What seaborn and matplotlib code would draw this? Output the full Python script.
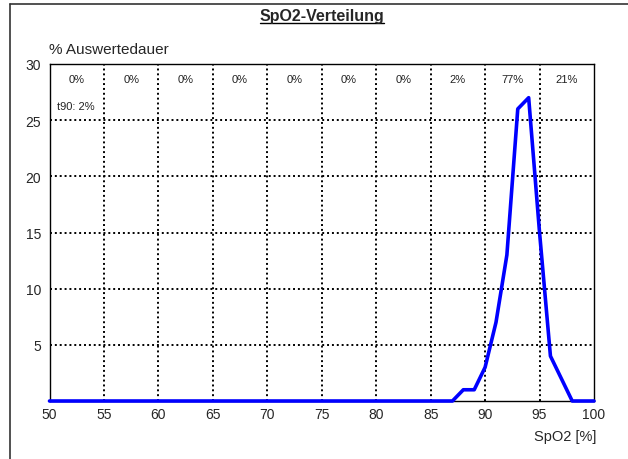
import numpy as np
import pandas as pd
import seaborn as sns
import matplotlib.pyplot as plt
import matplotlib.lines as mlines

# SpO2 distribution (% of evaluation time per SpO2 value)
spo2 = list(range(50, 101))
share = [0] * 38 + [1, 1, 3, 7, 13, 26, 27, 15, 4, 2, 0, 0, 0]  # 50..87 -> 0, 88..100
bin_starts = [50, 55, 60, 65, 70, 75, 80, 85, 90, 95]
bin_labels = ['0%', '0%', '0%', '0%', '0%', '0%', '0%', '2%', '77%', '21%']
t90_label = 't90: 2%'

df = pd.DataFrame({'spo2': spo2, 'share': share})

sns.set_style('white')
plt.rcParams['font.family'] = ['Liberation Sans', 'DejaVu Sans']

fig = plt.figure(figsize=(6.28, 4.6), dpi=100)
ax = fig.add_axes([49.5 / 628, 1 - 402 / 460, (594 - 49.5) / 628, (402 - 65) / 460])

sns.lineplot(data=df, x='spo2', y='share', ax=ax, color='#0000ff', linewidth=2.6,
             clip_on=False, zorder=5)

ax.set_xlim(50, 100)
ax.set_ylim(0, 30)
ax.set_xticks(range(50, 101, 5))
ax.set_yticks(range(0, 31, 5))
ax.set_yticklabels([''] + [str(v) for v in range(5, 31, 5)])
ax.tick_params(axis='both', labelsize=10, length=4, width=1.5, color='black', pad=2)
ax.tick_params(axis='x', direction='inout', length=5)
ax.set_xlabel('')
ax.set_ylabel('')

# dotted grid inside
for x in range(55, 100, 5):
    ax.axvline(x, color='black', linestyle=(0, (1, 1.5)), linewidth=1.4, zorder=1)
for y in range(5, 30, 5):
    ax.axhline(y, color='black', linestyle=(0, (1, 1.5)), linewidth=1.4, zorder=1)

for side in ['left', 'bottom', 'top', 'right']:
    ax.spines[side].set_visible(True)
    ax.spines[side].set_color('black')
    ax.spines[side].set_linewidth(1.0)

# percentages per 5% band
for start, lab in zip(bin_starts, bin_labels):
    ax.text(start + 2.5, 28.7, lab, ha='center', va='center', fontsize=8, color='#222222')
ax.text(50.7, 26.3, t90_label, ha='left', va='center', fontsize=8, color='#222222')

fig.text(49 / 628, 1 - 50 / 460, '% Auswertedauer', ha='left', va='center', fontsize=11)
fig.text(565 / 628, 1 - 437 / 460, 'SpO2 [%]', ha='center', va='center', fontsize=10.5)

title = fig.text(322 / 628, 1 - 16 / 460, 'SpO2-Verteilung', ha='center', va='center',
                 fontsize=11.5, fontweight='bold')
fig.canvas.draw()
bb = title.get_window_extent().transformed(fig.transFigure.inverted())
fig.add_artist(mlines.Line2D([bb.x0, bb.x1], [1 - 24 / 460, 1 - 24 / 460],
                             color='black', linewidth=1.0))

# outer frame (left and top edges)
fig.add_artist(mlines.Line2D([9.5 / 628, 9.5 / 628], [0, 1 - 4.5 / 460], color='#333333', linewidth=1.2))
fig.add_artist(mlines.Line2D([9.5 / 628, 1], [1 - 4.5 / 460, 1 - 4.5 / 460], color='#333333', linewidth=1.2))

fig.savefig('out.png', dpi=100, facecolor='white')
